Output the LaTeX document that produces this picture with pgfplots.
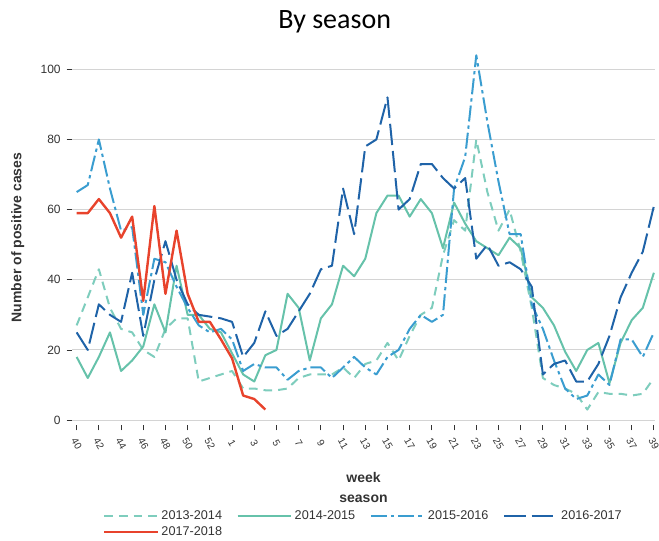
\documentclass[border=0pt]{standalone}
\usepackage{fontspec}
\setmainfont{Liberation Sans}
\newfontfamily\titlefont{Carlito}
\newfontfamily\boldfont{Liberation Sans Bold}
\usepackage{pgfplots}
\usepackage{pgfplotstable}
\pgfplotsset{compat=1.18}

\definecolor{sA}{HTML}{7ECDBD}
\definecolor{sB}{HTML}{66C2AA}
\definecolor{sC}{HTML}{3A9DD0}
\definecolor{sD}{HTML}{1F63A8}
\definecolor{sE}{HTML}{E8432C}
\definecolor{txt}{HTML}{333333}

% i = position on the axis: 0..13 are weeks 40..53, 14..52 are weeks 1..39
\pgfplotstableread{
i a b c d
0 27 18 65 25
1 35 12 67 20
2 43 18 80 33
3 32 25 66 30
4 26 14 54 28
5 25 17 55 42
6 20 21 30 24
7 18 33 46 40
8 26 25 45 51
9 29 44 38 40
10 29 30 32 33
11 11 30 27 30
12 12 26 25 29.5
13 13 25 26 29
14 14 19 23 28
15 9 13 14 18
16 9 11 16 22
17 8.5 18.5 15 31
18 8.5 20 15 24
19 9 36 11.5 26
20 12 32 14 31
21 13 17 15 36
22 13 29 15 43
23 13 33 12 44
24 15 44 15 66
25 12 41 18 53
26 16 46 15 78
27 17 59 13 80
28 22 64 18 92
29 17 64 20 60
30 24 58 26 63
31 30 63 30 73
32 32 59 28 73
33 47 49 30 69
34 57 62 66 66
35 54 56 75 69
36 80 51 104 46
37 65 49 85 50
38 54 47 68 44
39 60 52 53 45
40 48 49 53 43
41 32 35 33 38
42 12 32 26 13
43 10 27 17 16
44 9 19.5 9 17
45 7.5 14 6 11
46 3 20 7 11
47 8 22 13 16
48 7.5 10.5 10 24
49 7.5 22 23 35
50 7 28.5 23 42
51 7.5 32 18 48
52 12 42 25 61
}\seasons

\begin{document}
\begin{tikzpicture}[x=1pt,y=1pt]
\path[use as bounding box] (0,0) rectangle (494.25,405);
\node[font=\titlefont\fontsize{21}{25}\selectfont] at (251,388.5) {By season};
\begin{axis}[
  at={(54pt,86.25pt)}, anchor=south west,
  scale only axis, width=437.25pt, height=281.25pt,
  xmin=-0.42, xmax=52.1, ymin=-1.4, ymax=105.5,
  clip mode=individual,
  axis x line*=bottom, axis y line*=left,
  axis line style={draw=none},
  tick align=outside, major tick length=4pt,
  tick style={draw=txt, line width=0.6pt},
  ytick={0,20,...,100},
  xtick={0,2,...,52},
  xticklabels={40,42,44,46,48,50,52,1,3,5,7,9,11,13,15,17,19,21,23,25,27,29,31,33,35,37,39},
  ymajorgrids, grid style={draw=black!17, line width=0.8pt},
  /pgf/number format/assume math mode=true,
  tick label style={font=\fontsize{9}{10}\selectfont, text=txt},
  xticklabel style={anchor=center, rotate=-60, font=\fontsize{7.5}{8.5}\selectfont},
  xticklabel shift=10pt,
  yticklabel style={xshift=-1pt},
  xlabel={week}, ylabel={Number of positive cases},
  every axis x label/.style={at={(rel axis cs:0.5,-0.139)}, anchor=center,
    font=\boldfont\fontsize{10.5}{12}\selectfont, text=txt},
  every axis y label/.style={at={(rel axis cs:-0.093,0.5)}, anchor=center, rotate=90,
    font=\boldfont\fontsize{10.5}{12}\selectfont, text=txt},
  legend columns=4,
  legend style={at={(rel axis cs:0.046,-0.213)}, anchor=north west, draw=none, fill=none,
    font=\fontsize{9.5}{11}\selectfont, text=txt,
    /tikz/every even column/.append style={column sep=9pt}},
  legend image code/.code={\draw[#1] (0pt,0pt) -- (40pt,0pt);},
  every axis plot/.append style={line width=1.5pt, line join=round},
]
\addplot[sA, dash pattern=on 6.5pt off 4.5pt] table[x=i, y=a] {\seasons};
\addlegendentry{2013-2014}
\addplot[sB] table[x=i, y=b] {\seasons};
\addlegendentry{2014-2015}
\addplot[sC, dash pattern=on 12pt off 3pt on 2.5pt off 3pt] table[x=i, y=c] {\seasons};
\addlegendentry{2015-2016}
\addplot[sD, dash pattern=on 16pt off 4.5pt] table[x=i, y=d] {\seasons};
\addlegendentry{2016-2017}
\addplot[sE, line width=1.8pt] coordinates {
  (0,59) (1,59) (2,63) (3,59) (4,52) (5,58) (6,34) (7,61) (8,36)
  (9,54) (10,36) (11,28) (12,28) (13,23) (14,17.6) (15,7) (16,6) (17,3)};
\addlegendentry{2017-2018}
\node[font=\boldfont\fontsize{10.5}{12}\selectfont, text=txt] at (rel axis cs:0.5,-0.196) {season};
\end{axis}
\end{tikzpicture}
\end{document}
